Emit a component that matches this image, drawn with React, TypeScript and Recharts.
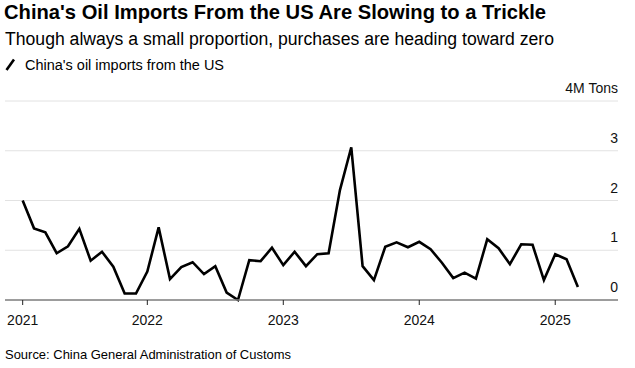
import React from "react";
import { LineChart, Line, XAxis, YAxis, CartesianGrid } from "recharts";

const months: string[] = [
  "2021-02","2021-03","2021-04","2021-05","2021-06","2021-07","2021-08","2021-09","2021-10","2021-11","2021-12",
  "2022-01","2022-02","2022-03","2022-04","2022-05","2022-06","2022-07","2022-08","2022-09","2022-10","2022-11","2022-12",
  "2023-01","2023-02","2023-03","2023-04","2023-05","2023-06","2023-07","2023-08","2023-09","2023-10","2023-11","2023-12",
  "2024-01","2024-02","2024-03","2024-04","2024-05","2024-06","2024-07","2024-08","2024-09","2024-10","2024-11","2024-12",
  "2025-01","2025-02","2025-03",
];

const imports: number[] = [
  2.0, 1.44, 1.36, 0.94, 1.08, 1.43, 0.79, 0.97, 0.67, 0.13, 0.13,
  0.57, 1.46, 0.42, 0.66, 0.76, 0.52, 0.68, 0.15, 0.0, 0.8, 0.78, 1.05,
  0.7, 0.97, 0.68, 0.92, 0.94, 2.21, 3.07, 0.68, 0.4, 1.07, 1.16, 1.06,
  1.17, 1.02, 0.75, 0.44, 0.55, 0.43, 1.22, 1.04, 0.72, 1.12, 1.11, 0.4,
  0.92, 0.82, 0.26,
];

const yearTicks: string[] = ["2021", "2022", "2023", "2024", "2025"];
const yTicks: number[] = [0, 1, 2, 3, 4];
const yUnit = "M Tons";

const monthIndex = (s: string) => {
  const [y, m] = s.split("-").map(Number);
  return (y - 2021) * 12 + (m - 1);
};

const data = months.map((m, i) => ({ m: monthIndex(m), v: imports[i] }));
// first year tick sits at the first data point, others at January
const xTickValues = yearTicks.map((y, i) => (i === 0 ? data[0].m : monthIndex(`${y}-01`)));

const FONT = "'Liberation Sans', Arial, Helvetica, sans-serif";

const renderYTick = (props: any) => {
  const { x, y, payload } = props;
  const label = payload.value === 4 ? `4${yUnit}` : String(payload.value);
  return (
    <text key={`yt-${payload.value}`} x={x} y={y - 8} textAnchor="end" fontFamily={FONT} fontSize={14} fill="#111">
      {label}
    </text>
  );
};

export default function App() {
  return (
    <div style={{ position: "absolute", left: 0, top: 0, width: 635, height: 368, background: "#fff" }}>
      <LineChart
        width={635}
        height={368}
        data={data}
        margin={{ top: 101, right: 17, left: 5, bottom: 38 }}
      >
        <CartesianGrid horizontal vertical={false} stroke="#e2e2e2" strokeWidth={1} />
        <XAxis
          dataKey="m"
          type="number"
          domain={[-0.56, 53.54]}
          ticks={xTickValues}
          tickFormatter={(v: number) => yearTicks[xTickValues.indexOf(v)] ?? ""}
          height={30}
          stroke="#808080"
          strokeWidth={1.6}
          tickSize={5}
          tickMargin={10}
          tickLine={{ stroke: "#222", strokeWidth: 1 }}
          tick={{ fontFamily: FONT, fontSize: 14, fill: "#111" }}
          interval={0}
          allowDataOverflow
        />
        <YAxis
          orientation="right"
          type="number"
          domain={[0, 4]}
          ticks={yTicks}
          width={10}
          mirror
          axisLine={false}
          tickLine={false}
          tickSize={0}
          tickMargin={0}
          tick={renderYTick}
          interval={0}
        />
        <Line
          type="linear"
          dataKey="v"
          stroke="#000"
          strokeWidth={2.6}
          dot={false}
          isAnimationActive={false}
          strokeLinejoin="miter"
        />
      </LineChart>
      <svg
        width={635}
        height={368}
        style={{ position: "absolute", left: 0, top: 0, pointerEvents: "none" }}
      >
        <text x={4} y={19} fontFamily={FONT} fontWeight="bold" fontSize={21} fill="#000"
          textLength={542} lengthAdjust="spacingAndGlyphs">
          China's Oil Imports From the US Are Slowing to a Trickle
        </text>
        <text x={5} y={45} fontFamily={FONT} fontSize={18} fill="#000"
          textLength={549} lengthAdjust="spacingAndGlyphs">
          Though always a small proportion, purchases are heading toward zero
        </text>
        <line x1={6.5} y1={70} x2={14} y2={59.5} stroke="#000" strokeWidth={2.6} />
        <text x={25} y={70} fontFamily={FONT} fontSize={15.5} fill="#000"
          textLength={199} lengthAdjust="spacingAndGlyphs">
          China's oil imports from the US
        </text>
        <text x={5} y={359} fontFamily={FONT} fontSize={13.5} fill="#000"
          textLength={286} lengthAdjust="spacingAndGlyphs">
          Source: China General Administration of Customs
        </text>
      </svg>
    </div>
  );
}
